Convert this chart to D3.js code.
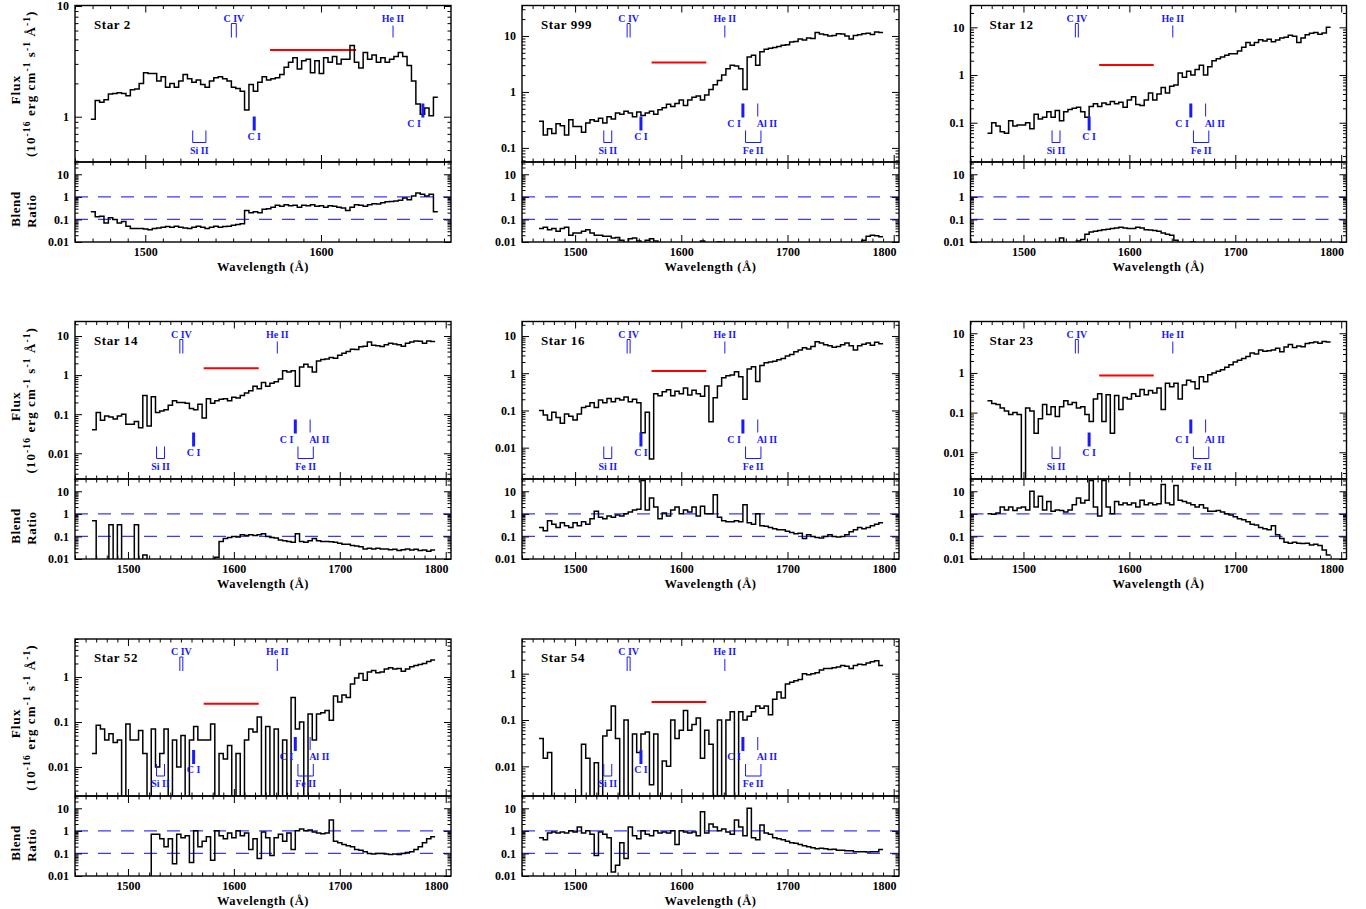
<!DOCTYPE html>
<html>
<head>
<meta charset="utf-8">
<script src="https://cdn.jsdelivr.net/npm/d3@7/dist/d3.min.js"></script>
<style>
html,body{margin:0;padding:0;background:#fff;}
svg{display:block;}
</style>
</head>
<body>
<svg id="chart" width="1366" height="909"></svg>
<script>
// ---------------- data ----------------
const starNames = ["Star 2","Star 999","Star 12","Star 14","Star 16","Star 23","Star 52","Star 54"];

// first bin wavelength and bin width (Angstrom)
const waveStart = [1469, 1466, 1466, 1466, 1466, 1466, 1466, 1466];
const waveStep  = [2.5, 4, 4, 4, 4, 4, 4, 4];

const flux2 = [0.95,1.4,1.35,1.42,1.6,1.62,1.65,1.62,1.55,1.75,
 1.78,2.0,2.5,2.45,2.45,2.1,2.3,1.85,2.0,1.85,
 2.1,2.4,2.2,2.05,2.15,1.95,1.85,2.1,2.25,2.3,
 2.2,2.1,1.85,1.8,1.7,1.15,1.95,1.7,2.05,2.3,
 2.15,2.2,2.25,2.4,2.8,3.1,3.4,2.7,3.2,3.3,
 2.5,3.2,2.45,3.4,3.1,3.5,3.0,3.3,3.3,4.4,
 3.1,2.75,3.8,3.3,3.6,3.1,3.4,3.1,3.3,3.5,
 3.8,3.5,2.9,2.1,1.3,1.05,1.2,1.02,1.5];
const ratio2 = [0.22,0.13,0.14,0.07,0.12,0.1,0.07,0.08,0.05,0.04,
 0.04,0.04,0.038,0.035,0.04,0.042,0.045,0.048,0.045,0.05,
 0.045,0.042,0.04,0.045,0.05,0.045,0.04,0.045,0.05,0.045,
 0.048,0.05,0.055,0.06,0.065,0.25,0.2,0.22,0.2,0.28,
 0.3,0.35,0.42,0.38,0.45,0.4,0.42,0.35,0.42,0.4,
 0.45,0.38,0.4,0.35,0.4,0.38,0.35,0.32,0.25,0.35,
 0.45,0.42,0.38,0.45,0.5,0.48,0.55,0.6,0.62,0.65,
 0.7,0.9,0.75,1.1,1.5,1.3,1.1,1.3,0.22];

const flux999 = [0.30,0.17,0.22,0.18,0.27,0.25,0.17,0.32,0.24,0.24,
 0.19,0.28,0.32,0.30,0.34,0.28,0.36,0.33,0.42,0.40,
 0.45,0.42,0.36,0.44,0.38,0.42,0.45,0.40,0.48,0.52,
 0.60,0.55,0.62,0.72,0.57,0.72,0.80,0.85,0.72,0.88,
 1.1,1.35,1.6,2.0,2.6,3.0,2.9,2.6,1.1,4.2,
 4.5,3.0,5.2,5.8,6.0,6.2,6.5,6.8,7.0,7.8,
 8.0,8.8,8.5,9.2,9.0,11.5,10.8,10.5,10.0,10.2,
 11.0,10.8,10.0,8.8,10.2,10.5,11.0,11.2,10.6,11.8,
 11.5];
const ratio999 = [0.04,0.045,0.035,0.04,0.03,0.04,0.045,0.02,0.025,0.025,
 0.03,0.035,0.025,0.02,0.02,0.018,0.018,0.015,0.016,0.012,
 0.009,0.014,0.015,0.011,0.009,0.012,0.014,0.011,0.008,0.006,
 0.005,0.005,0.005,0.005,0.005,0.005,0.005,0.005,0.011,0.005,
 0.005,0.005,0.01,0.005,0.005,0.005,0.005,0.005,0.005,0.005,
 0.005,0.005,0.005,0.005,0.005,0.005,0.005,0.005,0.005,0.005,
 0.005,0.005,0.005,0.005,0.005,0.005,0.005,0.005,0.005,0.005,
 0.005,0.005,0.005,0.005,0.005,0.005,0.012,0.018,0.02,0.019,
 0.017];

const flux12 = [0.06,0.10,0.085,0.065,0.06,0.11,0.085,0.09,0.09,0.10,
 0.075,0.15,0.12,0.13,0.17,0.13,0.18,0.11,0.17,0.19,
 0.20,0.21,0.17,0.13,0.22,0.25,0.22,0.26,0.24,0.28,
 0.25,0.27,0.21,0.30,0.35,0.24,0.23,0.30,0.42,0.30,
 0.40,0.55,0.42,0.58,0.62,1.1,0.9,1.2,1.0,1.3,
 1.6,1.0,1.5,2.0,2.2,2.4,2.6,2.8,2.8,3.2,
 3.8,4.8,4.2,4.8,5.5,5.2,5.6,5.0,5.4,6.0,
 6.2,6.8,6.5,4.8,6.0,7.0,7.5,7.8,7.2,7.6,
 10.0];
const ratio12 = [0.005,0.005,0.005,0.005,0.005,0.005,0.005,0.005,0.005,0.005,
 0.005,0.005,0.005,0.005,0.005,0.005,0.005,0.015,0.005,0.005,
 0.005,0.011,0.013,0.022,0.028,0.03,0.032,0.035,0.037,0.04,
 0.042,0.045,0.042,0.04,0.04,0.045,0.042,0.035,0.034,0.032,
 0.03,0.025,0.022,0.02,0.012,0.005,0.005,0.005,0.01,0.005,
 0.005,0.005,0.005,0.005,0.005,0.005,0.005,0.005,0.005,0.005,
 0.005,0.005,0.005,0.005,0.005,0.005,0.005,0.005,0.005,0.005,
 0.005,0.005,0.005,0.005,0.005,0.005,0.005,0.005,0.005,0.005,
 0.005];

const flux14 = [0.04,0.11,0.07,0.09,0.085,0.075,0.09,0.10,0.055,0.055,
 0.065,0.045,0.30,0.05,0.28,0.11,0.12,0.13,0.17,0.22,
 0.20,0.20,0.19,0.14,0.13,0.18,0.08,0.25,0.19,0.22,
 0.24,0.25,0.22,0.27,0.26,0.30,0.35,0.40,0.52,0.45,
 0.65,0.52,0.62,0.68,0.80,1.3,1.2,1.3,0.52,1.6,
 1.9,1.6,1.2,2.3,2.5,2.6,2.8,2.7,3.2,3.6,
 4.0,4.6,4.5,5.3,5.5,7.0,5.8,5.6,5.4,6.0,
 6.5,6.2,6.0,5.5,6.5,7.0,7.5,7.3,6.5,7.5,
 7.2];
const ratio14 = [0.5,0.004,0.004,0.004,0.33,0.004,0.33,0.004,0.004,0.004,
 0.33,0.004,0.015,0.004,0.004,0.004,0.004,0.004,0.004,0.004,
 0.004,0.004,0.004,0.004,0.004,0.004,0.004,0.004,0.006,0.012,
 0.06,0.08,0.09,0.1,0.095,0.12,0.11,0.12,0.11,0.12,
 0.13,0.10,0.09,0.085,0.07,0.065,0.06,0.055,0.13,0.06,
 0.055,0.065,0.08,0.065,0.06,0.06,0.058,0.055,0.05,0.045,
 0.045,0.04,0.038,0.035,0.028,0.03,0.028,0.03,0.028,0.028,
 0.026,0.027,0.024,0.026,0.028,0.025,0.027,0.024,0.025,0.022,
 0.025];

const flux16 = [0.10,0.075,0.055,0.09,0.065,0.045,0.08,0.07,0.055,0.08,
 0.12,0.13,0.16,0.12,0.19,0.16,0.21,0.17,0.21,0.19,
 0.23,0.17,0.20,0.16,0.025,0.09,0.005,0.28,0.25,0.32,
 0.36,0.25,0.33,0.28,0.40,0.26,0.35,0.28,0.24,0.45,
 0.05,0.22,0.45,0.75,0.85,0.9,1.1,0.8,0.2,1.3,
 1.5,0.6,1.6,1.9,2.0,2.1,2.3,2.5,2.9,3.2,
 3.8,4.2,4.8,4.5,5.2,7.0,6.5,5.8,5.5,5.0,
 5.2,5.8,6.5,5.5,4.2,5.5,6.0,6.5,5.6,6.8,
 6.2];
const ratio16 = [0.25,0.18,0.5,0.35,0.25,0.4,0.3,0.25,0.4,0.3,
 0.45,0.35,0.6,1.3,0.7,0.6,0.8,0.7,0.9,0.8,
 1.0,1.2,1.5,1.6,30,1.5,5.0,2.0,0.6,1.1,
 0.8,1.5,2.0,1.0,1.5,1.2,2.0,0.8,2.2,1.0,
 1.0,7.0,0.7,0.5,0.45,0.45,0.5,0.45,2.5,0.4,
 0.35,1.0,0.3,0.28,0.25,0.22,0.2,0.2,0.17,0.15,
 0.13,0.14,0.08,0.12,0.10,0.09,0.085,0.1,0.12,0.1,
 0.095,0.1,0.12,0.16,0.2,0.25,0.22,0.25,0.3,0.35,
 0.4];

const flux23 = [0.2,0.17,0.16,0.13,0.11,0.09,0.1,0.09,0.001,0.13,
 0.11,0.03,0.07,0.16,0.09,0.14,0.08,0.14,0.20,0.16,
 0.18,0.13,0.14,0.09,0.06,0.22,0.3,0.06,0.28,0.03,
 0.27,0.12,0.24,0.22,0.3,0.26,0.38,0.28,0.36,0.31,
 0.42,0.12,0.55,0.45,0.55,0.22,0.5,0.65,0.6,0.4,
 0.8,0.6,0.9,1.0,1.1,1.2,1.4,1.6,1.9,2.1,
 2.3,2.6,3.2,3.0,3.8,3.5,3.6,3.8,4.2,3.4,
 4.5,5.2,4.4,4.8,4.6,5.5,5.8,6.0,5.6,6.2,
 6.0];
const ratio23 = [1.0,0.95,1.1,2.0,1.5,2.0,1.4,1.8,2.0,1.5,
 10,2.0,6,1.5,3.5,1.3,1.5,1.4,1.2,1.5,
 2.5,5,3.0,4,30,2,0.8,30,2.0,1.0,
 3.5,2.5,3.0,2.5,3.0,2.0,4.0,2.5,3.0,2.5,
 2.8,20,3.0,2.5,18,4.0,3.5,3.0,2.5,2.0,
 2.5,1.8,1.3,1.3,1.4,1.2,1.0,0.9,0.75,0.6,
 0.55,0.45,0.35,0.32,0.25,0.22,0.2,0.3,0.12,0.08,
 0.055,0.05,0.055,0.05,0.048,0.05,0.042,0.045,0.04,0.025,
 0.015];

const flux52 = [0.02,0.085,0.07,0.04,0.055,0.035,0.04,0.001,0.09,0.04,
 0.04,0.065,0.02,0.001,0.07,0.01,0.02,0.07,0.001,0.04,
 0.01,0.05,0.001,0.04,0.08,0.04,0.04,0.04,0.09,0.001,
 0.02,0.015,0.03,0.001,0.02,0.001,0.04,0.07,0.06,0.13,
 0.001,0.08,0.001,0.07,0.001,0.04,0.001,0.35,0.07,0.1,
 0.001,0.15,0.04,0.15,0.16,0.18,0.11,0.38,0.28,0.4,
 0.35,0.7,0.95,1.2,0.85,1.3,1.4,1.25,1.3,1.5,
 1.6,1.5,1.55,1.35,1.5,1.7,1.8,1.9,2.0,2.2,
 2.4];
const ratio52 = [0.001,0.001,0.001,0.001,0.001,0.001,0.001,0.001,0.001,0.001,
 0.001,0.001,0.001,0.001,0.7,0.7,0.45,0.2,0.45,0.035,
 0.7,0.5,0.6,0.04,1.0,0.2,0.35,0.55,0.05,1.0,
 0.6,0.45,0.8,0.5,1.0,0.6,0.8,0.15,0.45,0.06,
 0.9,0.5,0.08,0.5,0.7,0.35,0.8,0.15,1.0,1.2,
 1.0,1.1,0.9,0.8,0.75,0.8,3.0,0.35,0.3,0.25,
 0.22,0.2,0.15,0.14,0.12,0.1,0.095,0.1,0.1,0.095,
 0.09,0.095,0.09,0.1,0.11,0.12,0.15,0.2,0.3,0.45,
 0.55];

const flux54 = [0.04,0.015,0.02,0.001,0.001,0.001,0.001,0.001,0.001,0.001,
 0.03,0.015,0.001,0.012,0.001,0.045,0.06,0.2,0.04,0.001,
 0.1,0.002,0.05,0.02,0.05,0.055,0.004,0.05,0.001,0.013,
 0.01,0.1,0.04,0.06,0.16,0.06,0.08,0.11,0.015,0.06,
 0.03,0.001,0.1,0.001,0.1,0.15,0.001,0.15,0.1,0.12,
 0.15,0.2,0.18,0.2,0.13,0.28,0.4,0.3,0.6,0.65,
 0.7,0.75,1.0,0.95,1.0,1.05,1.2,1.3,1.3,1.35,
 1.4,1.5,1.45,1.3,1.5,1.6,1.55,1.7,1.8,1.9,
 1.5];
const ratio54 = [0.5,0.4,0.8,0.9,0.8,0.9,0.8,1.0,0.9,1.5,
 0.8,1.0,0.7,0.08,0.9,0.7,0.5,0.015,0.03,0.3,
 0.06,1.5,0.6,0.45,1.0,0.7,0.6,1.0,0.8,0.9,
 0.8,1.0,0.25,1.0,0.9,0.8,0.9,0.6,7,0.8,
 2.0,1.5,1.0,1.2,0.9,0.7,3.0,1.5,0.6,10,
 0.5,0.4,1.8,0.8,0.7,0.5,0.45,0.4,0.35,0.3,
 0.28,0.25,0.22,0.2,0.18,0.16,0.17,0.16,0.15,0.155,
 0.14,0.14,0.13,0.13,0.12,0.12,0.12,0.115,0.12,0.12,
 0.15];

// axis domains and tick labels
const waveDomains = [[1460,1674],[1450,1805],[1450,1805],[1450,1805],[1450,1805],[1450,1805],[1450,1805],[1450,1805]];
const fluxDomains = [[0.39,10.1],[0.056,35],[0.015,28.7],[0.0022,23.5],[0.00144,24.5],[0.00212,19.8],[0.00227,7.0],[0.00229,5.6]];
const fluxTickValues = [[1,10],[0.1,1,10],[0.1,1,10],[0.01,0.1,1,10],[0.01,0.1,1,10],[0.01,0.1,1,10],[0.01,0.1,1],[0.01,0.1,1]];
const ratioDomain = [0.01, 35];
const ratioTickValues = [0.01, 0.1, 1, 10];
const ratioRefLevels = [1, 0.1];

// red bar (band and flux level)
const redLo = [1571, 1572, 1571.5, 1571.5, 1572, 1571.5, 1571.5, 1572];
const redHi = [1620, 1623.5, 1623, 1623.5, 1623.5, 1623, 1623.5, 1623.5];
const redLevel = [4.0, 3.34, 1.62, 1.49, 1.15, 0.86, 0.255, 0.245];

// spectral line identifications (Angstrom)
const lineCIV = [1549, 1551.8];
const lineHeII = 1641;
const lineSiII = [1527, 1534.5];
const lineCI = [1562, 1658];
const lineAlII = 1672;
const lineFeII = [1660.5, 1675];

// ---------------- drawing ----------------
const fluxSeries = [flux2, flux999, flux12, flux14, flux16, flux23, flux52, flux54];
const ratioSeries = [ratio2, ratio999, ratio12, ratio14, ratio16, ratio23, ratio52, ratio54];

const svg = d3.select('#chart');
const FONT = "'Liberation Serif','Times New Roman',serif";
const BLUE = '#1a1aff';
const colX = [[75,451],[522,899],[970.5,1346.5]];
const rowY = [[5.5,162,242],[321.5,479,559],[639,796,876]];
const panelCol = [0,1,2,0,1,2,0,1];
const panelRow = [0,0,0,1,1,1,2,2];

function styleAxis(g){
  g.select('.domain').remove();
  g.selectAll('line').attr('stroke','#000').attr('stroke-width',1);
  g.selectAll('text').attr('font-family',FONT).attr('font-weight','bold')
    .attr('font-size',12).attr('fill','#000');
}
function logMinor(domain){
  const lo = domain[0], hi = domain[1], out = [];
  for (let e = Math.floor(Math.log10(lo)); e <= Math.ceil(Math.log10(hi)); e++){
    for (let m = 2; m <= 9; m++){ const v = m*Math.pow(10,e); if (v>=lo && v<=hi) out.push(v); }
  }
  return out;
}
function xTicks(scale, y, top, labels){
  const [a,b] = scale.domain();
  const right = scale.range()[1];
  const maj = d3.range(Math.ceil(a/100)*100, b, 100);
  const min = d3.range(Math.ceil(a/10)*10, b, 10).filter(v => v % 100 !== 0);
  const ax = top ? d3.axisTop : d3.axisBottom;
  svg.append('g').attr('transform',`translate(0,${y})`)
    .call(ax(scale).tickValues(min).tickSizeInner(-3.5).tickSizeOuter(0).tickFormat(()=>'')).call(styleAxis);
  const g = svg.append('g').attr('transform',`translate(0,${y})`)
    .call(ax(scale).tickValues(maj).tickSizeInner(-7).tickSizeOuter(0).tickPadding(5)
      .tickFormat(labels ? d3.format('d') : ()=>'')).call(styleAxis);
  // keep a label next to the right frame inside the frame
  g.selectAll('.tick text').attr('dx', d => {
    const room = right - scale(d);
    return room < 12 ? -(15 - room) : 0;
  });
}
function yTicks(scale, x, right, majors, labels){
  const ax = right ? d3.axisRight : d3.axisLeft;
  svg.append('g').attr('transform',`translate(${x},0)`)
    .call(ax(scale).tickValues(logMinor(scale.domain())).tickSizeInner(-3.5).tickSizeOuter(0).tickFormat(()=>'')).call(styleAxis);
  svg.append('g').attr('transform',`translate(${x},0)`)
    .call(ax(scale).tickValues(majors).tickSizeInner(-7).tickSizeOuter(0).tickPadding(6)
      .tickFormat(labels ? (d => String(d)) : ()=>'')).call(styleAxis);
}
function stepPoints(values, start, step){
  const pts = values.map((v,k) => [start + k*step, v]);
  pts.push([start + values.length*step, values[values.length-1]]);
  return pts;
}
function blueText(x, y, txt, anchor){
  svg.append('text').attr('x',x).attr('y',y).attr('text-anchor',anchor||'middle')
    .attr('font-family',FONT).attr('font-weight','bold').attr('font-size',10)
    .attr('fill',BLUE).text(txt);
}

const defs = svg.append('defs');

starNames.forEach((name, i) => {
  const [x0,x1] = colX[panelCol[i]];
  const [yt,yb,yr] = rowY[panelRow[i]];
  const x = d3.scaleLinear().domain(waveDomains[i]).range([x0,x1]);
  const yF = d3.scaleLog().domain(fluxDomains[i]).range([yb,yt]);
  const yR = d3.scaleLog().domain(ratioDomain).range([yr,yb]);

  defs.append('clipPath').attr('id','cf'+i).append('rect')
    .attr('x',x0).attr('y',yt).attr('width',x1-x0).attr('height',yb-yt);
  defs.append('clipPath').attr('id','cr'+i).append('rect')
    .attr('x',x0).attr('y',yb).attr('width',x1-x0).attr('height',yr-yb);

  // reference dashed lines in ratio panel
  ratioRefLevels.forEach(r => {
    svg.append('line').attr('x1',x0).attr('x2',x1).attr('y1',yR(r)).attr('y2',yR(r))
      .attr('stroke','#3a3aff').attr('stroke-width',1.2).attr('stroke-dasharray','13,10');
  });

  const dataEnd = waveStart[i] + fluxSeries[i].length*waveStep[i];

  // red bar
  svg.append('line').attr('x1',x(redLo[i])).attr('x2',x(redHi[i]))
    .attr('y1',yF(redLevel[i])).attr('y2',yF(redLevel[i]))
    .attr('stroke','#ff0000').attr('stroke-width',2);

  // spectrum
  const lineF = d3.line().x(d => x(d[0])).y(d => yF(d[1])).curve(d3.curveStepAfter);
  svg.append('path').attr('clip-path',`url(#cf${i})`)
    .attr('d', lineF(stepPoints(fluxSeries[i], waveStart[i], waveStep[i])))
    .attr('fill','none').attr('stroke','#000').attr('stroke-width',1.5);
  const lineR = d3.line().x(d => x(d[0])).y(d => yR(d[1])).curve(d3.curveStepAfter);
  svg.append('path').attr('clip-path',`url(#cr${i})`)
    .attr('d', lineR(stepPoints(ratioSeries[i], waveStart[i], waveStep[i])))
    .attr('fill','none').attr('stroke','#000').attr('stroke-width',1.5);

  // line identifications
  const T = yt;
  svg.append('path').attr('d',`M${x(lineCIV[0])},${T+32}V${T+18}H${x(lineCIV[1])}V${T+32}`)
    .attr('fill','none').attr('stroke',BLUE).attr('stroke-width',1);
  blueText((x(lineCIV[0])+x(lineCIV[1]))/2, T+16, 'C IV');
  svg.append('line').attr('x1',x(lineHeII)).attr('x2',x(lineHeII)).attr('y1',T+20).attr('y2',T+32)
    .attr('stroke',BLUE).attr('stroke-width',1);
  blueText(x(lineHeII), T+16, 'He II');
  svg.append('path').attr('d',`M${x(lineSiII[0])},${T+125}V${T+137}H${x(lineSiII[1])}V${T+125}`)
    .attr('fill','none').attr('stroke',BLUE).attr('stroke-width',1);
  blueText((x(lineSiII[0])+x(lineSiII[1]))/2, T+148, 'Si II');
  svg.append('line').attr('x1',x(lineCI[0])).attr('x2',x(lineCI[0])).attr('y1',T+111).attr('y2',T+125)
    .attr('stroke',BLUE).attr('stroke-width',3);
  blueText(x(lineCI[0]), T+134, 'C I');
  if (lineCI[1] <= dataEnd) {
    svg.append('line').attr('x1',x(lineCI[1])).attr('x2',x(lineCI[1])).attr('y1',T+98).attr('y2',T+112)
      .attr('stroke',BLUE).attr('stroke-width',3);
    blueText(x(lineCI[1])-2, T+121, 'C I', 'end');
  }
  if (lineAlII <= dataEnd) {
    svg.append('line').attr('x1',x(lineAlII)).attr('x2',x(lineAlII)).attr('y1',T+98).attr('y2',T+111)
      .attr('stroke',BLUE).attr('stroke-width',1);
    blueText(x(lineAlII)-1, T+121, 'Al II', 'start');
  }
  if (lineFeII[1] <= dataEnd) {
    svg.append('path').attr('d',`M${x(lineFeII[0])},${T+125}V${T+137}H${x(lineFeII[1])}V${T+125}`)
      .attr('fill','none').attr('stroke',BLUE).attr('stroke-width',1);
    blueText((x(lineFeII[0])+x(lineFeII[1]))/2, T+148, 'Fe II');
  }

  // frames
  svg.append('rect').attr('x',x0).attr('y',yt).attr('width',x1-x0).attr('height',yb-yt)
    .attr('fill','none').attr('stroke','#000').attr('stroke-width',1.4);
  svg.append('rect').attr('x',x0).attr('y',yb).attr('width',x1-x0).attr('height',yr-yb)
    .attr('fill','none').attr('stroke','#000').attr('stroke-width',1.4);

  // ticks
  xTicks(x, yt, true, false);
  xTicks(x, yb, false, false);
  xTicks(x, yb, true, false);
  xTicks(x, yr, false, true);
  yTicks(yF, x0, false, fluxTickValues[i], true);
  yTicks(yF, x1, true, fluxTickValues[i], false);
  yTicks(yR, x0, false, ratioTickValues, true);
  yTicks(yR, x1, true, ratioTickValues, false);

  // star name
  svg.append('text').attr('x',x0+19).attr('y',yt+23)
    .attr('font-family',FONT).attr('font-weight','bold').attr('font-size',13)
    .attr('letter-spacing',0.6).attr('fill','#000').text(name);

  // x-axis title
  svg.append('text').attr('x',(x0+x1)/2).attr('y',yr+29).attr('text-anchor','middle')
    .attr('font-family',FONT).attr('font-weight','bold').attr('font-size',12.5)
    .attr('letter-spacing',0.6).attr('fill','#000').text('Wavelength (Å)');
});

// y-axis titles for the left column
rowY.forEach(([yt,yb,yr]) => {
  const cf = (yt+yb)/2, cr = (yb+yr)/2;
  svg.append('text').attr('transform',`translate(20,${cf+6}) rotate(-90)`).attr('text-anchor','middle')
    .attr('font-family',FONT).attr('font-weight','bold').attr('font-size',13.5)
    .attr('letter-spacing',0.8).attr('fill','#000').text('Flux');
  const t = svg.append('text').attr('transform',`translate(35,${cf}) rotate(-90)`).attr('text-anchor','middle')
    .attr('font-family',FONT).attr('font-weight','bold').attr('font-size',13)
    .attr('letter-spacing',1.1).attr('fill','#000');
  const parts = [['(10',0],['-16',1],[' erg cm',0],['-1',1],[' s',0],['-1',1],[' Å',0],['-1',1],[')',0]];
  let up = false;
  parts.forEach(([s,sup]) => {
    const ts = t.append('tspan').text(s);
    if (sup && !up) { ts.attr('dy',-5).attr('font-size',9.5); up = true; }
    else if (sup) { ts.attr('font-size',9.5); }
    else if (up) { ts.attr('dy',5); up = false; }
  });
  svg.append('text').attr('transform',`translate(20,${cr+7}) rotate(-90)`).attr('text-anchor','middle')
    .attr('font-family',FONT).attr('font-weight','bold').attr('font-size',13)
    .attr('letter-spacing',0.6).attr('fill','#000').text('Blend');
  svg.append('text').attr('transform',`translate(36,${cr+9}) rotate(-90)`).attr('text-anchor','middle')
    .attr('font-family',FONT).attr('font-weight','bold').attr('font-size',13)
    .attr('letter-spacing',0.6).attr('fill','#000').text('Ratio');
});
</script>
</body>
</html>
